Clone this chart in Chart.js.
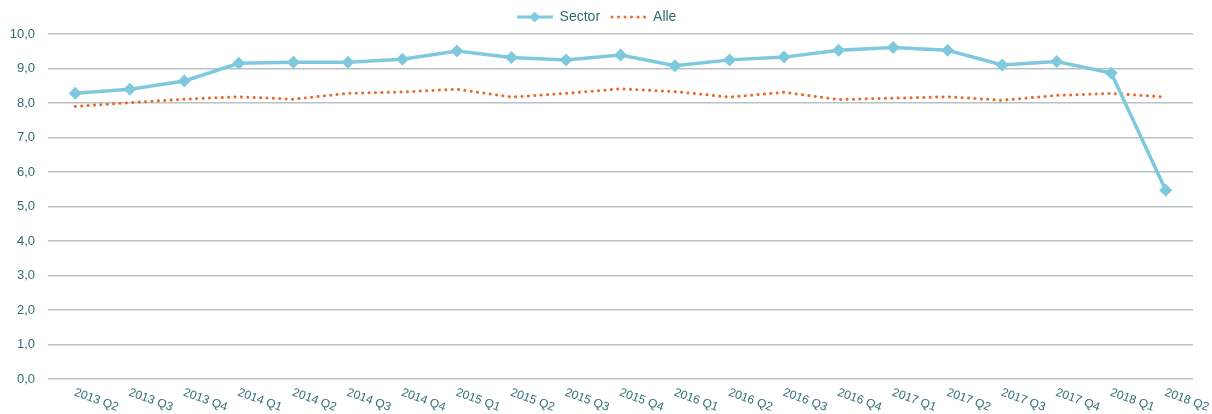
<!DOCTYPE html>
<html>
<head>
<meta charset="utf-8">
<script src="https://cdn.jsdelivr.net/npm/chart.js@4/dist/chart.umd.min.js"></script>
<style>
  html, body { margin: 0; padding: 0; background: #fff; }
  #wrap { width: 1212px; height: 414px; }
</style>
</head>
<body>
<div id="wrap"><canvas id="chart"></canvas></div>
<script>
const QUARTERS = ['2013 Q2','2013 Q3','2013 Q4','2014 Q1','2014 Q2','2014 Q3','2014 Q4',
  '2015 Q1','2015 Q2','2015 Q3','2015 Q4','2016 Q1','2016 Q2','2016 Q3','2016 Q4',
  '2017 Q1','2017 Q2','2017 Q3','2017 Q4','2018 Q1','2018 Q2'];
const SECTOR = [8.28, 8.40, 8.64, 9.15, 9.18, 9.18, 9.27, 9.51, 9.32, 9.25, 9.39,
  9.08, 9.25, 9.33, 9.53, 9.61, 9.53, 9.10, 9.20, 8.87, 5.47];
const ALLE = [7.90, 8.01, 8.11, 8.18, 8.11, 8.28, 8.32, 8.40, 8.17, 8.28, 8.41,
  8.33, 8.17, 8.31, 8.10, 8.14, 8.18, 8.08, 8.22, 8.28, 8.17];
const Y_TICKS = [0, 1, 2, 3, 4, 5, 6, 7, 8, 9, 10];

const BLUE = '#7fc9de';
const ORANGE = '#e8692a';
const TEXT = '#2f6c75';
const GRID = '#b9c1c5';

// legend symbols: line with diamond, dotted line
function sectorSymbol(){
  const c = document.createElement('canvas');
  c.width = 36; c.height = 14;
  const g = c.getContext('2d');
  g.strokeStyle = BLUE; g.lineWidth = 3;
  g.beginPath(); g.moveTo(0, 7); g.lineTo(36, 7); g.stroke();
  g.fillStyle = BLUE;
  g.beginPath(); g.moveTo(18, 1.5); g.lineTo(23.5, 7); g.lineTo(18, 12.5); g.lineTo(12.5, 7); g.closePath(); g.fill();
  return c;
}
function alleSymbol(){
  const c = document.createElement('canvas');
  c.width = 36; c.height = 14;
  const g = c.getContext('2d');
  g.fillStyle = ORANGE;
  for (let i = 0; i < 6; i++) {
    g.beginPath(); g.arc(2 + i * 6.5, 7, 1.5, 0, Math.PI * 2); g.fill();
  }
  return c;
}
const SYMBOLS = [sectorSymbol(), alleSymbol()];

// x labels are slanted downwards (clockwise), so draw them ourselves
const slantedLabels = {
  id: 'slantedLabels',
  afterDraw(chart) {
    const x = chart.scales.x;
    const ctx = chart.ctx;
    const bottom = chart.chartArea.bottom;
    ctx.save();
    ctx.font = '12px "Liberation Sans", Arial, sans-serif';
    ctx.fillStyle = TEXT;
    ctx.textAlign = 'center';
    ctx.textBaseline = 'middle';
    QUARTERS.forEach((lab, i) => {
      const px = x.getPixelForValue(i);
      ctx.save();
      ctx.translate(px + 21, bottom + 21);
      ctx.rotate(20 * Math.PI / 180);
      ctx.fillText(lab, 0, 0);
      ctx.restore();
    });
    ctx.restore();
  }
};

new Chart(document.getElementById('chart'), {
  type: 'line',
  data: {
    labels: QUARTERS,
    datasets: [
      {
        label: 'Sector',
        data: SECTOR,
        borderColor: BLUE,
        backgroundColor: BLUE,
        borderWidth: 3.5,
        pointStyle: 'rectRot',
        pointRadius: 6.5,
        pointBorderWidth: 0,
        tension: 0
      },
      {
        label: 'Alle',
        data: ALLE,
        borderColor: ORANGE,
        backgroundColor: ORANGE,
        borderWidth: 3,
        borderDash: [0.1, 6.3],
        borderCapStyle: 'round',
        pointRadius: 0,
        tension: 0
      }
    ]
  },
  options: {
    responsive: true,
    maintainAspectRatio: false,
    animation: false,
    layout: { padding: { left: 0, right: 19, top: 0, bottom: 35 } },
    plugins: {
      tooltip: { enabled: false },
      legend: {
        position: 'top',
        labels: {
          usePointStyle: true,
          pointStyleWidth: 36,
          padding: 10,
          color: TEXT,
          font: { size: 14, family: '"Liberation Sans", Arial, sans-serif' },
          generateLabels(chart) {
            const items = Chart.defaults.plugins.legend.labels.generateLabels(chart);
            items.forEach((it, i) => { it.pointStyle = SYMBOLS[i]; });
            return items;
          }
        }
      }
    },
    scales: {
      x: {
        offset: true,
        grid: { display: false, drawTicks: false },
        border: { display: false },
        ticks: { display: false }
      },
      y: {
        min: 0,
        max: 10,
        afterFit(scale) { scale.width = 48; },
        afterBuildTicks(scale) { scale.ticks = Y_TICKS.map(v => ({ value: v })); },
        grid: { color: GRID, lineWidth: 1.5, drawTicks: false },
        border: { display: false },
        ticks: {
          padding: 13,
          color: TEXT,
          font: { size: 13, family: '"Liberation Sans", Arial, sans-serif' },
          callback: v => v.toFixed(1).replace('.', ',')
        }
      }
    }
  },
  plugins: [slantedLabels]
});
</script>
</body>
</html>
